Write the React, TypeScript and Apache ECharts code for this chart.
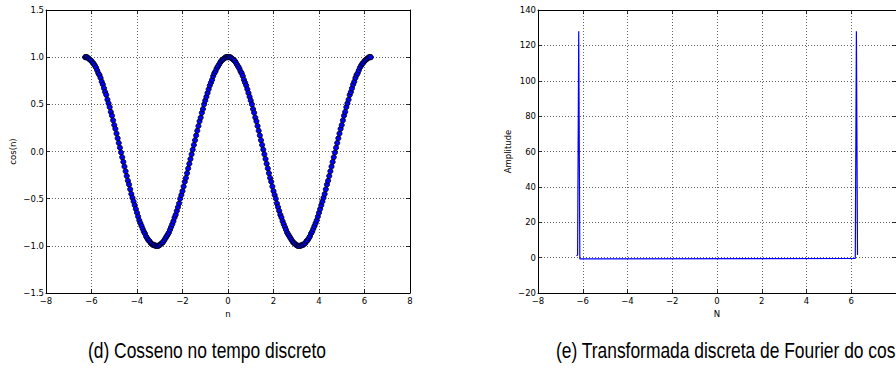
import React, { useEffect, useRef } from "react";
import * as echarts from "echarts";

// Left panel: cos(n) sampled values
const nValues = [
  -6.28, -6.25, -6.2, -6.15, -6.1, -6.05, -6, -5.95, -5.9, -5.85,
  -5.8, -5.75, -5.7, -5.65, -5.6, -5.55, -5.5, -5.45, -5.4, -5.35,
  -5.3, -5.25, -5.2, -5.15, -5.1, -5.05, -5, -4.95, -4.9, -4.85,
  -4.8, -4.75, -4.7, -4.65, -4.6, -4.55, -4.5, -4.45, -4.4, -4.35,
  -4.3, -4.25, -4.2, -4.15, -4.1, -4.05, -4, -3.95, -3.9, -3.85,
  -3.8, -3.75, -3.7, -3.65, -3.6, -3.55, -3.5, -3.45, -3.4, -3.35,
  -3.3, -3.25, -3.2, -3.15, -3.1, -3.05, -3, -2.95, -2.9, -2.85,
  -2.8, -2.75, -2.7, -2.65, -2.6, -2.55, -2.5, -2.45, -2.4, -2.35,
  -2.3, -2.25, -2.2, -2.15, -2.1, -2.05, -2, -1.95, -1.9, -1.85,
  -1.8, -1.75, -1.7, -1.65, -1.6, -1.55, -1.5, -1.45, -1.4, -1.35,
  -1.3, -1.25, -1.2, -1.15, -1.1, -1.05, -1, -0.95, -0.9, -0.85,
  -0.8, -0.75, -0.7, -0.65, -0.6, -0.55, -0.5, -0.45, -0.4, -0.35,
  -0.3, -0.25, -0.2, -0.15, -0.1, -0.05,
  0,
  0.05, 0.1, 0.15, 0.2, 0.25, 0.3, 0.35, 0.4, 0.45, 0.5,
  0.55, 0.6, 0.65, 0.7, 0.75, 0.8, 0.85, 0.9, 0.95, 1,
  1.05, 1.1, 1.15, 1.2, 1.25, 1.3, 1.35, 1.4, 1.45, 1.5,
  1.55, 1.6, 1.65, 1.7, 1.75, 1.8, 1.85, 1.9, 1.95, 2,
  2.05, 2.1, 2.15, 2.2, 2.25, 2.3, 2.35, 2.4, 2.45, 2.5,
  2.55, 2.6, 2.65, 2.7, 2.75, 2.8, 2.85, 2.9, 2.95, 3,
  3.05, 3.1, 3.15, 3.2, 3.25, 3.3, 3.35, 3.4, 3.45, 3.5,
  3.55, 3.6, 3.65, 3.7, 3.75, 3.8, 3.85, 3.9, 3.95, 4,
  4.05, 4.1, 4.15, 4.2, 4.25, 4.3, 4.35, 4.4, 4.45, 4.5,
  4.55, 4.6, 4.65, 4.7, 4.75, 4.8, 4.85, 4.9, 4.95, 5,
  5.05, 5.1, 5.15, 5.2, 5.25, 5.3, 5.35, 5.4, 5.45, 5.5,
  5.55, 5.6, 5.65, 5.7, 5.75, 5.8, 5.85, 5.9, 5.95, 6,
  6.05, 6.1, 6.15, 6.2, 6.25, 6.28,
];

const cosValues = [
  1.0, 1.0, 1.0, 0.99, 0.98, 0.97, 0.96, 0.94, 0.93, 0.91,
  0.89, 0.86, 0.83, 0.81, 0.78, 0.74, 0.71, 0.67, 0.63, 0.6,
  0.55, 0.51, 0.47, 0.42, 0.38, 0.33, 0.28, 0.24, 0.19, 0.14,
  0.09, 0.04, -0.01, -0.06, -0.11, -0.16, -0.21, -0.26, -0.31, -0.35,
  -0.4, -0.45, -0.49, -0.53, -0.57, -0.61, -0.65, -0.69, -0.73, -0.76,
  -0.79, -0.82, -0.85, -0.87, -0.9, -0.92, -0.94, -0.95, -0.97, -0.98,
  -0.99, -0.99, -1.0, -1.0, -1.0, -1.0, -0.99, -0.98, -0.97, -0.96,
  -0.94, -0.92, -0.9, -0.88, -0.86, -0.83, -0.8, -0.77, -0.74, -0.7,
  -0.67, -0.63, -0.59, -0.55, -0.5, -0.46, -0.42, -0.37, -0.32, -0.28,
  -0.23, -0.18, -0.13, -0.08, -0.03, 0.02, 0.07, 0.12, 0.17, 0.22,
  0.27, 0.32, 0.36, 0.41, 0.45, 0.5, 0.54, 0.58, 0.62, 0.66,
  0.7, 0.73, 0.76, 0.8, 0.83, 0.85, 0.88, 0.9, 0.92, 0.94,
  0.96, 0.97, 0.98, 0.99, 1.0, 1.0,
  1.0,
  1.0, 1.0, 0.99, 0.98, 0.97, 0.96, 0.94, 0.92, 0.9, 0.88,
  0.85, 0.83, 0.8, 0.76, 0.73, 0.7, 0.66, 0.62, 0.58, 0.54,
  0.5, 0.45, 0.41, 0.36, 0.32, 0.27, 0.22, 0.17, 0.12, 0.07,
  0.02, -0.03, -0.08, -0.13, -0.18, -0.23, -0.28, -0.32, -0.37, -0.42,
  -0.46, -0.5, -0.55, -0.59, -0.63, -0.67, -0.7, -0.74, -0.77, -0.8,
  -0.83, -0.86, -0.88, -0.9, -0.92, -0.94, -0.96, -0.97, -0.98, -0.99,
  -1.0, -1.0, -1.0, -1.0, -0.99, -0.99, -0.98, -0.97, -0.95, -0.94,
  -0.92, -0.9, -0.87, -0.85, -0.82, -0.79, -0.76, -0.73, -0.69, -0.65,
  -0.61, -0.57, -0.53, -0.49, -0.45, -0.4, -0.35, -0.31, -0.26, -0.21,
  -0.16, -0.11, -0.06, -0.01, 0.04, 0.09, 0.14, 0.19, 0.24, 0.28,
  0.33, 0.38, 0.42, 0.47, 0.51, 0.55, 0.6, 0.63, 0.67, 0.71,
  0.74, 0.78, 0.81, 0.83, 0.86, 0.89, 0.91, 0.93, 0.94, 0.96,
  0.97, 0.98, 0.99, 1.0, 1.0, 1.0,
];

// Right panel: DFT amplitude (visible breakpoints of the trace)
const freqN = [-6.28, -6.23, -6.18, -6.13, 6.13, 6.18, 6.23, 6.28];
const amplitude = [1.0, 1.5, 128, -0.7, -0.5, -0.4, 128, 1.5];

const leftXTicks = { min: -8, max: 8, interval: 2 };
const leftYTicks = { min: -1.5, max: 1.5, interval: 0.5 };
const rightXTicks = { min: -8, max: 8, interval: 2 };
const rightYTicks = { min: -20, max: 140, interval: 20 };

const captionLeft = "(d) Cosseno no tempo discreto";
const captionRight = "(e) Transformada discreta de Fourier do cos";

const FONT = "DejaVu Sans";
const minus = (s: string) => s.replace("-", "\u2212");

export default function App() {
  const ref = useRef<HTMLDivElement>(null);

  useEffect(() => {
    if (!ref.current) return;
    const chart = echarts.init(ref.current, undefined, { renderer: "svg" });

    const labelStyle = { color: "#000", fontFamily: FONT, fontSize: 8.5 };
    const gridLine = {
      show: true,
      lineStyle: { color: "#000", width: 0.8, type: [1, 2] as any, opacity: 0.75 },
    };
    const tickIn = { show: true, inside: true, length: 4, lineStyle: { color: "#000", width: 0.8 } };
    const axisLine = { show: true, onZero: false, lineStyle: { color: "#000", width: 1 } };

    const mainX = (gridIndex: number, t: any, name: string, hideMax: boolean) => ({
      type: "value",
      gridIndex,
      min: t.min,
      max: t.max,
      interval: t.interval,
      position: "bottom",
      name,
      nameLocation: "middle",
      nameGap: 12,
      nameTextStyle: { ...labelStyle },
      axisLine,
      axisTick: tickIn,
      splitLine: gridLine,
      axisLabel: {
        ...labelStyle,
        margin: 3,
        showMaxLabel: !hideMax,
        formatter: (v: number) => minus(String(v)),
      },
    });
    const topX = (gridIndex: number, t: any) => ({
      type: "value",
      gridIndex,
      min: t.min,
      max: t.max,
      interval: t.interval,
      position: "top",
      axisLine,
      axisTick: tickIn,
      splitLine: { show: false },
      axisLabel: { show: false },
    });
    const mainY = (gridIndex: number, t: any, name: string, dec: number, gap: number) => ({
      type: "value",
      gridIndex,
      min: t.min,
      max: t.max,
      interval: t.interval,
      position: "left",
      name,
      nameLocation: "middle",
      nameGap: gap,
      nameTextStyle: { ...labelStyle },
      axisLine,
      axisTick: tickIn,
      splitLine: gridLine,
      axisLabel: {
        ...labelStyle,
        margin: 2,
        formatter: (v: number) => minus(v.toFixed(dec)),
      },
    });
    const rightY = (gridIndex: number, t: any) => ({
      type: "value",
      gridIndex,
      min: t.min,
      max: t.max,
      interval: t.interval,
      position: "right",
      axisLine,
      axisTick: tickIn,
      splitLine: { show: false },
      axisLabel: { show: false },
    });

    chart.setOption({
      animation: false,
      backgroundColor: "#fff",
      grid: [
        { left: 46, top: 10, width: 364, height: 283, show: false },
        { left: 538, top: 10, width: 364, height: 283, show: false },
      ],
      xAxis: [
        mainX(0, leftXTicks, "n", false),
        topX(0, leftXTicks),
        mainX(1, rightXTicks, "N", true),
        topX(1, rightXTicks),
      ],
      yAxis: [
        mainY(0, leftYTicks, "cos(n)", 1, 29),
        rightY(0, leftYTicks),
        mainY(1, rightYTicks, "Amplitude", 0, 26),
        rightY(1, rightYTicks),
      ],
      series: [
        {
          type: "scatter",
          xAxisIndex: 0,
          yAxisIndex: 0,
          symbol: "circle",
          symbolSize: 5.2,
          itemStyle: { color: "#0000ff", borderColor: "#000", borderWidth: 0.8, opacity: 1 },
          data: nValues.map((n, i) => [n, cosValues[i]]),
          silent: true,
        },
        {
          type: "line",
          xAxisIndex: 2,
          yAxisIndex: 2,
          showSymbol: false,
          symbol: "none",
          lineStyle: { color: "#0000ff", width: 1.2 },
          data: freqN.map((n, i) => [n, amplitude[i]]),
          silent: true,
        },
      ],
      graphic: [
        {
          type: "text",
          x: 88,
          y: 339,
          scaleX: 0.81,
          style: {
            text: captionLeft,
            fontFamily: "Liberation Sans",
            fontSize: 21.5,
            fill: "#000",
          },
        },
        {
          type: "text",
          x: 556,
          y: 339,
          scaleX: 0.81,
          style: {
            text: captionRight,
            fontFamily: "Liberation Sans",
            fontSize: 21.5,
            fill: "#000",
          },
        },
      ],
    });

    return () => chart.dispose();
  }, []);

  return (
    <div style={{ position: "fixed", left: 0, top: 0, width: 896, height: 370, overflow: "hidden", background: "#fff" }}>
      <div ref={ref} style={{ width: 896, height: 370 }} />
    </div>
  );
}
